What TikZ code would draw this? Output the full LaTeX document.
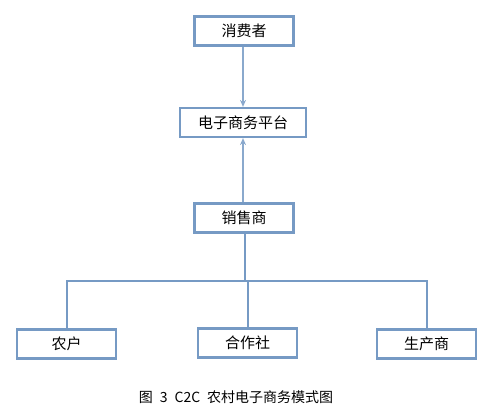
\documentclass[tikz,border=0pt]{standalone}
\usepackage{fontspec}
\setmainfont{Noto Sans CJK SC}
\usepackage{xcolor}
\usetikzlibrary{positioning,arrows.meta}
\definecolor{boxblue}{RGB}{118,154,196}

\begin{document}
\begin{tikzpicture}[x=1pt, y=-1pt,
        box/.style={rectangle, draw=boxblue, line width=2.2pt, fill=white, minimum width=99pt, minimum height=29pt, inner sep=0pt, font=\fontsize{15}{17}\selectfont},
        arrow/.style={-{Stealth[length=7pt, width=6pt]}, boxblue!85, line width=1.4pt},
        branch/.style={boxblue, line width=2pt}
    ]
        \useasboundingbox (0,0) rectangle (494,412);
        % Boxes
        \node[box] (consumer) at (244,31) {消费者};
        \node[box, minimum width=126pt] (platform) at (243,122.5) {电子商务平台};
        \node[box] (seller) at (244,218) {销售商};
        \node[box] (farmer) at (66.5,344) {农户};
        \node[box] (coop) at (247.5,343) {合作社};
        \node[box] (producer) at (426.5,344) {生产商};
        \coordinate (fork) at (245,281);

        % Caption
        \node[font=\fontsize{14}{16}\selectfont] (caption) at (236,397) {图\hspace{0.5em}3\hspace{0.5em}C2C\hspace{0.5em}农村电子商务模式图};

        % Arrows
        \draw[arrow] (consumer.south -| platform.north) -- (platform.north);
        \draw[arrow] (seller.north -| platform.south) -- (platform.south);
        \draw[branch] (seller.south -| fork) -- (fork);
        \draw[branch] (farmer.north) |- (fork) -| (producer.north);
        \draw[branch] (fork -| coop.north) -- (coop.north);
    \end{tikzpicture}
\end{document}
